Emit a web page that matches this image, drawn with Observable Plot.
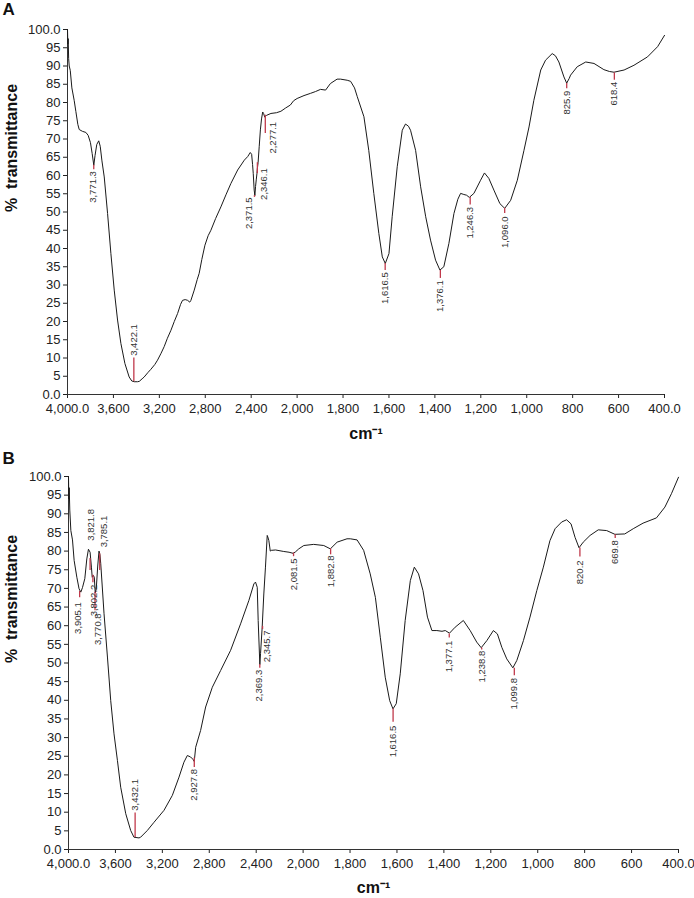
<!DOCTYPE html>
<html><head><meta charset="utf-8">
<script src="https://cdn.jsdelivr.net/npm/d3@7"></script>
<script src="https://cdn.jsdelivr.net/npm/@observablehq/plot@0.6"></script>
<style>body{margin:0;background:#fff;} #chart svg{display:block;}</style>
</head><body><div id="chart"></div>
<script>
// ---- axis ticks ----
const xTicks = [4000,3600,3200,2800,2400,2000,1800,1600,1400,1200,1000,800,600,400];
const xTickLabels = ["4,000.0","3,600","3,200","2,800","2,400","2,000","1,800","1,600","1,400","1,200","1,000","800","600","400.0"];
const yTicks = [0,5,10,15,20,25,30,35,40,45,50,55,60,65,70,75,80,85,90,95,100];
const yTickLabels = ["0.0","5","10","15","20","25","30","35","40","45","50","55","60","65","70","75","80","85","90","95","100.0"];

// ---- spectrum A ----
const wnA = [4000,3997,3994,3990,3985,3976,3962,3942,3927,3910,3898,3870,3840,3820,3800,3785,3771,3760,3745,3728,3715,3700,3680,3651,3622,3593,3564,3535,3500,3463,3440,3419,3390,3375,3350,3332,3300,3274,3240,3216,3185,3158,3130,3099,3070,3041,3015,2998,2975,2954,2935,2925,2896,2870,2853,2830,2803,2775,2751,2710,2664,2620,2577,2518,2460,2430,2408,2396,2388,2382,2374,2368,2362,2356,2350,2346,2340,2330,2320,2310,2300,2292,2282,2265,2228,2180,2141,2100,2059,2030,2000,1970,1942,1920,1898,1876,1855,1826,1811,1782,1767,1750,1738,1709,1688,1666,1644,1629,1616,1600,1586,1564,1542,1528,1515,1506,1484,1462,1440,1419,1397,1378,1361,1339,1317,1300,1288,1274,1262,1250,1230,1201,1184,1165,1143,1117,1096,1070,1041,1012,990,969,939,918,889,875,860,838,826,815,809,780,743,707,664,640,620,576,533,474,430,400];
const tA = [100,96,97.5,92,90,88.8,84,80.6,77.5,74,72.6,72.1,71.8,71,69,66,62.8,65.5,68.5,69.5,68,64,59.6,49.6,38.6,28.6,20.4,14,8.5,4.8,3.7,3.5,3.5,3.6,4.3,4.8,6,6.9,8.2,9.4,11.3,13.1,15.4,17.6,20,22.2,24.7,25.8,26,25.8,25.3,25.8,28.6,31.5,33.2,37,40.9,43.5,45,48.2,51.4,54.7,57.8,61.5,64.2,65.2,66.3,65.8,63,60.5,56,54.5,57,58.8,60.5,62,63.5,68,72.5,75.5,77.4,77,76,76.5,77,77.2,77.6,78.5,79.3,80.5,81.1,81.9,82.5,83,83.6,83.4,85.2,86.4,86.4,86.1,85.8,84,81.6,76.1,66.9,55.1,44.1,37.7,35.9,38.6,48.7,62.4,72.4,74.1,73.5,72.4,66.9,56.9,48.7,42.3,36.8,34.1,35.0,41.4,49.6,53.5,55.1,54.8,54.6,54.0,55.1,58.7,60.7,59.2,56.0,52.3,51.0,53.2,58.7,66.9,73.3,80.6,88.9,91.6,93.4,92.8,91.1,87.0,85.3,86.6,87.5,89.8,91.1,90.7,89.0,88.5,88.3,88.9,90.2,92.5,95.3,98.4];

const peakLabelsA = ["3,771.3","3,422.1","2,371.5","2,346.1","2,277.1","1,616.5","1,376.1","1,246.3","1,096.0","825.9","618.4"];
const peakWnA     = [3771.3,3422.1,2371.5,2346.1,2277.1,1616.5,1376.1,1246.3,1096.0,825.9,618.4];
const tickFromA   = [62.8,3.5,54.5,63.5,76.5,35.9,34.0,54.0,51.0,85.2,88.1];
const tickToA     = [61.6,10.0,54.0,60.5,71.5,34.0,31.8,51.9,49.6,83.8,86.1];
const labelWnA    = [3782,3422.1,2417,2290,2213,1616.5,1376.1,1246.3,1096.0,825.9,618.4];
const labelTA     = [61.2,10.6,54.0,62.0,74.7,33.5,31.3,51.4,48.8,83.2,85.7];
const labelSideA  = ["below","above","below","below","below","below","below","below","below","below","below"];

// ---- spectrum B ----
const wnB = [4000,3997,3994,3989,3980,3966,3952,3929,3910,3895,3881,3861,3844,3830,3816,3804,3798,3789,3780,3772,3763,3751,3740,3732,3725,3697,3668,3640,3612,3583,3555,3512,3470,3442,3399,3385,3328,3271,3186,3115,3058,3016,2987,2959,2940,2928,2916,2874,2831,2774,2703,2618,2533,2462,2420,2406,2391,2383,2369,2363,2349,2335,2321,2306,2298,2292,2280,2272,2235,2165,2120,2085,2065,2037,1997,1955,1912,1884,1855,1813,1799,1770,1742,1714,1692,1671,1650,1631,1617,1603,1586,1565,1543,1526,1508,1489,1470,1451,1430,1408,1394,1376,1352,1317,1288,1260,1241,1217,1189,1172,1153,1132,1106,1089,1061,1033,1004,976,948,926,898,877,858,841,824,806,777,742,706,671,629,593,551,494,458,430,400];
const tB = [100,94,97,91,85.5,83,77.5,73.0,69.9,69.0,70.2,72.6,77.9,80.5,79.7,75.5,73,73.5,73,68.8,70,76,80,79,76.6,63.2,51.6,39.9,31,23.9,16.7,9.6,5.1,3.3,3.1,3.3,5.1,7.3,10.5,14.5,19.4,23.4,25.2,24.8,24.2,23.6,27.4,31.9,38.2,43.5,48.0,53.4,60.5,66.8,71.2,71.7,70.3,61.4,49.6,52.5,59.6,68.5,75.7,84.2,83.5,82.8,80,80.2,80.3,79.9,79.7,79.4,79.8,80.6,81.5,81.8,81.5,80.6,82.4,83.3,83.3,83.0,80.2,73.9,67.6,56.9,46.2,39.9,37.7,39.1,47.1,61.4,72.1,75.7,73.9,69.4,62.3,58.7,58.7,58.5,58.7,58.0,59.6,61.4,58.7,55.6,54.1,56.0,58.7,57.8,54.2,51.1,48.7,50.7,56.0,62.3,69.4,75.7,82.8,86.0,87.8,88.4,87.3,83.7,80.9,82.4,84.2,85.7,85.5,84.5,84.6,86.0,87.5,88.9,91.8,95.4,99.8];

const peakLabelsB = ["3,905.1","3,821.8","3,802.2","3,770.8","3,785.1","3,432.1","2,927.8","2,369.3","2,345.7","2,081.5","1,882.8","1,616.5","1,377.1","1,238.8","1,099.8","820.2","669.8"];
const peakWnB     = [3905.1,3816,3792,3774,3734,3432.1,2927.8,2369.3,2345.7,2081.5,1882.8,1616.5,1377.1,1238.8,1099.8,820.2,669.8];
const tickFromB   = [69.2,78.0,73.5,69.0,79.3,3.2,24.5,49.6,59.8,79.5,80.6,37.7,57.8,54.0,48.6,80.8,84.4];
const tickToB     = [67.5,74.8,71.5,64.0,74.8,9.8,22.0,48.6,59.0,78.5,79.0,34.1,56.7,53.5,46.6,78.4,83.4];
const labelWnB    = [3923,3810,3782,3753,3697,3432.1,2927.8,2378,2310,2081.5,1882.8,1616.5,1377.1,1238.8,1099.8,820.2,669.8];
const labelTB     = [66.3,82.8,71.0,63.3,81.0,10.4,21.6,48.2,58.7,78.0,78.8,33.2,56.0,53.3,46.0,77.5,82.9];
const labelSideB  = ["below","above","below","below","above","above","below","below","below","below","below","below","below","below","below","below","below"];

const RED = "#c0394b";
const FONT = "'Liberation Sans', Arial, Helvetica, sans-serif";

function panel({letter, wn, t, labels, pwn, from, to, lwn, lt, side, mL, mR, mT, mB, H, yLabelX, xLabelDy}) {
  const W = 694;
  const step = (W - mR - mL) / 13;
  const data = wn.map((w, i) => ({wn: w, t: t[i]}));
  const peaks = labels.map((l, i) => ({label: l, wn: pwn[i], from: from[i], to: to[i], lx: lwn[i], ly: lt[i], side: side[i]}));
  return Plot.plot({
    width: W, height: H,
    marginLeft: mL, marginRight: mR, marginTop: mT, marginBottom: mB,
    style: {fontFamily: FONT, fontSize: "13px", color: "#222", background: "#fff", overflow: "visible"},
    x: {type: "linear", domain: [4000, 2000, 400], range: [mL, mL + 5 * step, W - mR], ticks: xTicks,
        tickFormat: d => xTickLabels[xTicks.indexOf(d)], label: null, tickSize: 4, tickPadding: 5},
    y: {type: "linear", domain: [0, 100], ticks: yTicks, tickFormat: d => yTickLabels[yTicks.indexOf(d)],
        label: null, tickSize: 4, tickPadding: 3},
    marks: [
      Plot.ruleX([4000], {stroke: "#333", strokeWidth: 1}),
      Plot.ruleY([0], {stroke: "#333", strokeWidth: 1}),
      Plot.line(data, {x: "wn", y: "t", stroke: "#1a1a1a", strokeWidth: 1}),
      Plot.ruleX(peaks, {x: "wn", y1: "from", y2: "to", stroke: RED, strokeWidth: 1.3}),
      Plot.text(peaks, {filter: d => d.side === "below", x: "lx", y: "ly", text: "label", rotate: -90,
        textAnchor: "end", lineAnchor: "middle", fontSize: 9.5, fill: "#333"}),
      Plot.text(peaks, {filter: d => d.side === "above", x: "lx", y: "ly", text: "label", rotate: -90,
        textAnchor: "start", lineAnchor: "middle", fontSize: 9.5, fill: "#333"}),
      Plot.text(["%  transmittance"], {frameAnchor: "left", dx: yLabelX - mL, rotate: -90,
        fontWeight: "bold", fontSize: 16, fill: "#111"}),
      Plot.text(["cm\u207B\u00B9"], {frameAnchor: "bottom", dy: xLabelDy, fontWeight: "bold", fontSize: 16, fill: "#111"}),
      Plot.text([letter], {frameAnchor: "top-left", dx: 2 - mL, dy: 2 - mT, textAnchor: "start", lineAnchor: "top",
        fontWeight: "bold", fontSize: 17, fill: "#111"})
    ]
  });
}

const chart = document.getElementById("chart");
chart.append(panel({letter: "A", wn: wnA, t: tA, labels: peakLabelsA, pwn: peakWnA, from: tickFromA, to: tickToA,
  lwn: labelWnA, lt: labelTA, side: labelSideA, mL: 67, mR: 30, mT: 29, mB: 55, H: 449, yLabelX: 11, xLabelDy: 44}));
chart.append(panel({letter: "B", wn: wnB, t: tB, labels: peakLabelsB, pwn: peakWnB, from: tickFromB, to: tickToB,
  lwn: labelWnB, lt: labelTB, side: labelSideB, mL: 68, mR: 16, mT: 27, mB: 49, H: 449, yLabelX: 11, xLabelDy: 43}));
</script>
</body></html>
